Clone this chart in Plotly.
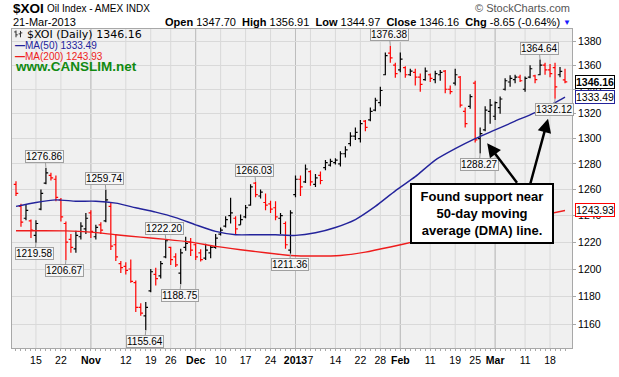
import math
import plotly.graph_objects as go

# ---------------- data ----------------
dates = [
    "2012-10-09", "2012-10-10", "2012-10-11", "2012-10-12", "2012-10-15", "2012-10-16", "2012-10-17",
    "2012-10-18", "2012-10-19", "2012-10-22", "2012-10-23", "2012-10-24", "2012-10-25", "2012-10-26",
    "2012-10-31",
    "2012-11-01", "2012-11-02", "2012-11-05", "2012-11-06", "2012-11-07", "2012-11-08", "2012-11-09",
    "2012-11-12", "2012-11-13", "2012-11-14", "2012-11-15", "2012-11-16", "2012-11-19", "2012-11-20",
    "2012-11-21", "2012-11-23", "2012-11-26", "2012-11-27", "2012-11-28", "2012-11-29", "2012-11-30",
    "2012-12-03", "2012-12-04", "2012-12-05", "2012-12-06", "2012-12-07", "2012-12-10", "2012-12-11",
    "2012-12-12", "2012-12-13", "2012-12-14", "2012-12-17", "2012-12-18", "2012-12-19", "2012-12-20",
    "2012-12-21", "2012-12-24", "2012-12-26", "2012-12-27", "2012-12-28", "2012-12-31",
    "2013-01-02", "2013-01-03", "2013-01-04", "2013-01-07", "2013-01-08", "2013-01-09", "2013-01-10",
    "2013-01-11", "2013-01-14", "2013-01-15", "2013-01-16", "2013-01-17", "2013-01-18", "2013-01-22",
    "2013-01-23", "2013-01-24", "2013-01-25", "2013-01-28", "2013-01-29", "2013-01-30", "2013-01-31",
    "2013-02-01", "2013-02-04", "2013-02-05", "2013-02-06", "2013-02-07", "2013-02-08", "2013-02-11",
    "2013-02-12", "2013-02-13", "2013-02-14", "2013-02-15", "2013-02-19", "2013-02-20", "2013-02-21",
    "2013-02-22", "2013-02-25", "2013-02-26", "2013-02-27", "2013-02-28",
    "2013-03-01", "2013-03-04", "2013-03-05", "2013-03-06", "2013-03-07", "2013-03-08", "2013-03-11",
    "2013-03-12", "2013-03-13", "2013-03-14", "2013-03-15", "2013-03-18", "2013-03-19", "2013-03-20",
    "2013-03-21",
]

opens = [
    1264, 1247, 1238, 1236, 1225, 1245, 1265, 1271, 1268, 1252, 1234, 1222, 1215, 1224, 1230,
    1242, 1224, 1233, 1236, 1247, 1218, 1204, 1202, 1200, 1190, 1172, 1166, 1184, 1196, 1195, 1209,
    1216, 1209, 1197, 1216, 1220,
    1218, 1212, 1208, 1212, 1216, 1226, 1232, 1240, 1238, 1233, 1239, 1248, 1265, 1255, 1250, 1249,
    1246, 1238, 1234, 1214,
    1256, 1268, 1266, 1274, 1264, 1271, 1277, 1279, 1281, 1280, 1288, 1296, 1302, 1300, 1314, 1315,
    1323, 1329, 1352, 1370, 1360,
    1356, 1358, 1352, 1354, 1350, 1348, 1352, 1348, 1352, 1355, 1340, 1345, 1350, 1322, 1326, 1345,
    1300, 1307, 1322,
    1318, 1325, 1340, 1346, 1348, 1350, 1340, 1350, 1351, 1352, 1360, 1356, 1358, 1352, 1347.70,
]
highs = [
    1266.5, 1249, 1248, 1237, 1236.5, 1260, 1276.86, 1273, 1271, 1253.5, 1235.5, 1226, 1228.6, 1235, 1242,
    1244, 1233, 1235, 1259.74, 1249.7, 1226, 1206, 1205, 1207, 1191.6, 1175, 1176, 1200, 1201, 1206,
    1222.2, 1216.5, 1211.6, 1215, 1224, 1223,
    1219, 1214.6, 1218.8, 1217, 1226, 1231, 1239.5, 1253.7, 1239.5, 1240.8, 1248, 1264, 1266.03, 1260,
    1257, 1251.4, 1251, 1242, 1235.5, 1244,
    1271, 1271, 1279.6, 1275, 1272, 1274, 1283, 1284, 1284.5, 1290, 1294, 1305, 1309, 1315, 1315, 1325,
    1333, 1342, 1370.5, 1376.38, 1362,
    1370.5, 1359, 1357, 1357, 1353, 1358, 1353, 1355.4, 1356, 1356, 1343, 1357, 1351, 1325, 1336, 1347,
    1309, 1326, 1332,
    1330, 1334, 1349, 1351.6, 1352, 1352, 1350.6, 1360, 1352, 1364.64, 1362, 1361, 1362, 1358.5, 1356.91,
]
lows = [
    1255, 1231.5, 1236.5, 1223, 1219.58, 1244, 1264, 1267, 1251, 1235.5, 1206.67, 1212, 1212, 1222, 1226,
    1223, 1222, 1226, 1235, 1214, 1206, 1197, 1196, 1190, 1168.7, 1166, 1155.64, 1183, 1188, 1193, 1208,
    1203, 1201.4, 1188.75, 1213.6, 1209.6,
    1206.7, 1205.5, 1206.7, 1208, 1215, 1225, 1231, 1234, 1226, 1233, 1238, 1247.5, 1254, 1253, 1244,
    1242, 1236.5, 1226, 1215, 1211.36,
    1254, 1255, 1265, 1263, 1262, 1264, 1275, 1278, 1279.5, 1278, 1285, 1294, 1299, 1297, 1306, 1314,
    1322, 1326, 1351.5, 1362, 1349.6,
    1354, 1349.6, 1351, 1343, 1338, 1347, 1346, 1345, 1347, 1336.7, 1336, 1343, 1325, 1309, 1324, 1297,
    1288.27, 1306, 1312,
    1315, 1320, 1339, 1342, 1345, 1346, 1338, 1349, 1345, 1351.6, 1352, 1350, 1332.12, 1350, 1344.97,
]
closes = [
    1257, 1235, 1244, 1229, 1234, 1257, 1273, 1269, 1254, 1239, 1220, 1216, 1225, 1232, 1238,
    1228, 1231, 1229, 1252, 1217, 1209, 1201, 1199, 1191, 1172, 1168, 1172, 1198, 1193, 1204, 1221,
    1207, 1203, 1212, 1219, 1214,
    1209, 1207, 1214, 1216, 1223, 1229, 1237, 1242, 1230, 1237, 1246, 1262, 1256, 1258, 1248, 1245,
    1239, 1240, 1218, 1242,
    1268, 1262, 1276, 1266, 1269, 1267, 1281, 1282, 1283, 1288, 1291, 1302, 1305, 1312, 1309, 1322,
    1331, 1339, 1368, 1366, 1353,
    1365, 1352, 1355, 1350, 1344, 1355, 1349, 1353, 1354, 1340, 1338, 1352, 1327, 1312, 1334, 1299,
    1304, 1323, 1327,
    1329, 1332, 1347, 1349, 1350, 1347, 1349, 1357, 1348, 1360, 1356, 1353, 1342, 1354.81, 1346.16,
]

ma50_dates = [
    "2012-10-09", "2012-10-15", "2012-10-19", "2012-10-25", "2012-11-02", "2012-11-08", "2012-11-14",
    "2012-11-20", "2012-11-27", "2012-12-03", "2012-12-07", "2012-12-13", "2012-12-19", "2012-12-26",
    "2013-01-02", "2013-01-08", "2013-01-14", "2013-01-18", "2013-01-25", "2013-01-31", "2013-02-06",
    "2013-02-12", "2013-02-19", "2013-02-25", "2013-03-01", "2013-03-07", "2013-03-13", "2013-03-19",
    "2013-03-21",
]
ma50_values = [
    1247, 1250, 1252, 1251, 1251, 1249.5, 1246, 1242.7, 1238.5, 1233, 1228, 1225.5, 1225.5, 1225.5,
    1225, 1227, 1231, 1237, 1247, 1259, 1270, 1283, 1292, 1300, 1307, 1314, 1321, 1329, 1333.49,
]
ma200_dates = [
    "2012-10-09", "2012-10-16", "2012-10-23", "2012-11-01", "2012-11-08", "2012-11-15", "2012-11-23",
    "2012-11-30", "2012-12-07", "2012-12-14", "2012-12-21", "2012-12-31", "2013-01-08", "2013-01-15",
    "2013-01-23", "2013-01-30", "2013-02-06", "2013-02-13", "2013-02-21", "2013-02-28", "2013-03-07",
    "2013-03-14", "2013-03-21",
]
ma200_values = [
    1228.5, 1228.5, 1228.4, 1227.5, 1225.5, 1223.7, 1222, 1220, 1216.8, 1214.3, 1212, 1210, 1209.6,
    1210, 1212.5, 1216.3, 1220.5, 1224.6, 1228.5, 1232.4, 1236, 1240, 1243.93,
]

tick_dates = [
    "2012-10-15", "2012-10-22", "2012-11-01", "2012-11-12", "2012-11-19", "2012-11-26", "2012-12-03",
    "2012-12-10", "2012-12-17", "2012-12-24", "2013-01-02", "2013-01-07", "2013-01-14", "2013-01-22",
    "2013-01-28", "2013-02-01", "2013-02-11", "2013-02-19", "2013-02-25", "2013-03-01", "2013-03-11",
    "2013-03-18",
]
tick_text = [
    "15", "22", "<b>Nov</b>", "12", "19", "26", "<b>Dec</b>", "10", "17", "24", "<b>2013</b>", "7",
    "14", "22", "28", "<b>Feb</b>", "11", "19", "25", "<b>Mar</b>", "11", "18",
]
month_dates = ["2012-11-01", "2012-12-03", "2013-01-02", "2013-02-01", "2013-03-01"]

price_ticks = [1160, 1180, 1200, 1220, 1240, 1260, 1280, 1300, 1320, 1340, 1360, 1380]

label_dates = ["2012-10-17", "2012-10-15", "2012-10-23", "2012-11-06", "2012-11-23", "2012-11-16",
               "2012-11-28", "2012-12-19", "2012-12-31", "2013-01-30", "2013-02-26", "2013-03-14",
               "2013-03-19"]
label_values = [1276.86, 1219.58, 1206.67, 1259.74, 1222.20, 1155.64, 1188.75, 1266.03, 1211.36,
                1376.38, 1288.27, 1364.64, 1332.12]
label_above = [True, False, False, True, True, False, False, True, False, True, False, True, False]

last_open, last_high, last_low, last_close = 1347.70, 1356.91, 1344.97, 1346.16
chg, chg_pct = -8.65, -0.64
ma50_last, ma200_last = 1333.49, 1243.93

# ---------------- figure ----------------
BLACK = "#000000"
RED = "#ff0000"
MA50_C = "#23239b"
MA200_C = "#ee1c1c"

n = len(dates)
up = [closes[i] >= (closes[i - 1] if i > 0 else opens[i]) for i in range(n)]


def subset(arr, flag):
    return [a for a, u in zip(arr, up) if u == flag]


fig = go.Figure()
for flag, col in ((True, BLACK), (False, RED)):
    fig.add_trace(go.Ohlc(
        x=subset(dates, flag), open=subset(opens, flag), high=subset(highs, flag),
        low=subset(lows, flag), close=subset(closes, flag),
        increasing=dict(line=dict(color=col, width=1.2)),
        decreasing=dict(line=dict(color=col, width=1.2)),
        tickwidth=0.45, hoverinfo="skip", showlegend=False,
    ))

fig.add_trace(go.Scatter(x=ma200_dates, y=ma200_values, mode="lines",
                         line=dict(color=MA200_C, width=1.4, shape="spline", smoothing=0.6),
                         hoverinfo="skip", showlegend=False))
fig.add_trace(go.Scatter(x=ma50_dates, y=ma50_values, mode="lines",
                         line=dict(color=MA50_C, width=1.4, shape="spline", smoothing=0.6),
                         hoverinfo="skip", showlegend=False))

L, R, T, B = 11, 47, 29, 21
W, H = 619, 377
PW, PH = W - L - R, H - T - B


def px(xp):
    return (xp - L) / PW


def py(yp):
    return (H - B - yp) / PH


FONT = "Arial, Liberation Sans, sans-serif"
ann = []

# header
ann.append(dict(x=px(10), y=py(7.5), xref="paper", yref="paper", xanchor="left", yanchor="middle",
                text="<b>$XOI</b>", showarrow=False, font=dict(family=FONT, size=13.5, color="black")))
ann.append(dict(x=px(44), y=py(8), xref="paper", yref="paper", xanchor="left", yanchor="middle",
                text="Oil Index - AMEX INDX", showarrow=False, font=dict(family=FONT, size=10, color="black")))
ann.append(dict(x=px(10), y=py(21.5), xref="paper", yref="paper", xanchor="left", yanchor="middle",
                text="21-Mar-2013", showarrow=False, font=dict(family=FONT, size=11, color="black")))
hdr = ("<b>Open</b> %.2f  <b>High</b> %.2f  <b>Low</b> %.2f  <b>Close</b> %.2f  <b>Chg</b> %.2f (%.2f%%)"
       % (last_open, last_high, last_low, last_close, chg, chg_pct))
ann.append(dict(x=px(562), y=py(21.5), xref="paper", yref="paper", xanchor="right", yanchor="middle",
                text=hdr, showarrow=False, font=dict(family=FONT, size=11, color="black")))
ann.append(dict(x=px(567), y=py(22), xref="paper", yref="paper", xanchor="center", yanchor="middle",
                text="▼", showarrow=False, font=dict(family=FONT, size=8, color="#1a1aff")))
ann.append(dict(x=px(572), y=py(7.5), xref="paper", yref="paper", xanchor="right", yanchor="middle",
                text="© StockCharts.com", showarrow=False, font=dict(family=FONT, size=11, color="#555555")))

# in-plot legend
ann.append(dict(x=px(24), y=py(34.2), xref="paper", yref="paper", xanchor="left", yanchor="middle",
                text="$XOI (Daily) %.2f" % last_close, showarrow=False,
                font=dict(family="DejaVu Sans, Verdana", size=11, color="black")))
ann.append(dict(x=px(12), y=py(45.8), xref="paper", yref="paper", xanchor="left", yanchor="middle",
                text="<b>—</b>MA(50) %.2f" % ma50_last, showarrow=False,
                font=dict(family=FONT, size=10, color=MA50_C)))
ann.append(dict(x=px(12), y=py(56.7), xref="paper", yref="paper", xanchor="left", yanchor="middle",
                text="<b>—</b>MA(200) %.2f" % ma200_last, showarrow=False,
                font=dict(family=FONT, size=10, color=MA200_C)))
ann.append(dict(x=px(12), y=py(67.5), xref="paper", yref="paper", xanchor="left", yanchor="middle",
                text="<b>www.CANSLIM.net</b>", showarrow=False,
                font=dict(family=FONT, size=13.5, color="#118a11")))

# high / low callouts
for d, v, above in zip(label_dates, label_values, label_above):
    ann.append(dict(x=d, y=math.log10(v), xref="x", yref="y", text="%.2f" % v,
                    showarrow=True, arrowhead=0, arrowwidth=1, arrowcolor="#9a9a9a",
                    ax=-1, ay=-11 if above else 11, bordercolor="#a0a0a0", borderwidth=1,
                    borderpad=0, bgcolor="#f6f6f6",
                    font=dict(family=FONT, size=10, color="black")))

# right-side value tags
for v, bc, bold in ((last_close, "black", True), (ma50_last, MA50_C, False), (ma200_last, "red", False)):
    ann.append(dict(x=px(575), y=math.log10(v), xref="paper", yref="y", xanchor="left", yanchor="middle",
                    text=("<b>%.2f</b>" if bold else "%.2f") % v, showarrow=False,
                    bordercolor=bc, borderwidth=1, borderpad=0, bgcolor="white",
                    font=dict(family=FONT, size=10.5, color="black")))

# commentary box + arrows
ann.append(dict(x=px(482), y=py(218.5), xref="paper", yref="paper", xanchor="center", yanchor="middle",
                text="<b>Found support near<br>50-day moving<br>average (DMA) line.</b>",
                showarrow=False, bordercolor="black", borderwidth=2, borderpad=2, bgcolor="white",
                width=136, height=53, align="center",
                font=dict(family=FONT, size=13, color="black")))
ann.append(dict(x=px(487), y=py(146), xref="paper", yref="paper", text="", showarrow=True,
                arrowhead=2, arrowsize=1.1, arrowwidth=2.5, arrowcolor="black", ax=31, ay=41))
ann.append(dict(x=px(548), y=py(121), xref="paper", yref="paper", text="", showarrow=True,
                arrowhead=2, arrowsize=1.1, arrowwidth=2.5, arrowcolor="black", ax=-18, ay=66))

GRID = "#d9d9d9"
shapes = []
# weekly grid lines (at labelled dates) and darker month lines
for d in tick_dates:
    shapes.append(dict(type="line", xref="x", yref="paper", x0=d, x1=d, y0=0, y1=1,
                       line=dict(color=GRID, width=1), layer="below"))
for d in month_dates:
    shapes.append(dict(type="line", xref="x", yref="paper", x0=d, x1=d, y0=0, y1=1,
                       line=dict(color="#bdbdbd", width=1), layer="below"))
# small OHLC glyph in the in-plot legend
for x0, ytop, ybot, yl, yr in ((15, 30.5, 37.5, 32, 35), (19.5, 31, 37.5, 34, 33)):
    shapes.append(dict(type="line", xref="paper", yref="paper", x0=px(x0), x1=px(x0), y0=py(ytop), y1=py(ybot),
                       line=dict(color="#333333", width=1)))
    shapes.append(dict(type="line", xref="paper", yref="paper", x0=px(x0 - 1.8), x1=px(x0), y0=py(yl), y1=py(yl),
                       line=dict(color="#333333", width=1)))
    shapes.append(dict(type="line", xref="paper", yref="paper", x0=px(x0), x1=px(x0 + 1.8), y0=py(yr), y1=py(yr),
                       line=dict(color="#333333", width=1)))

tick_lookup = dict(zip(tick_dates, tick_text))
all_ticktext = [tick_lookup.get(d, "") for d in dates]

fig.update_layout(
    width=W, height=H, margin=dict(l=L, r=R, t=T, b=B),
    paper_bgcolor="white", plot_bgcolor="#f0f0f0", showlegend=False,
    font=dict(family=FONT, size=10, color="black"),
    annotations=ann, shapes=shapes,
    xaxis=dict(type="category", categoryorder="array", categoryarray=dates,
               range=[-0.8, 111.4], tickmode="array", tickvals=dates, ticktext=all_ticktext,
               tickangle=0, showgrid=False, zeroline=False,
               showline=True, mirror=True, linecolor="#a8a8a8", linewidth=1,
               ticks="outside", ticklen=2, tickcolor="#a8a8a8",
               tickfont=dict(family=FONT, size=10.5, color="black"),
               rangeslider=dict(visible=False), fixedrange=True),
    yaxis=dict(type="log", side="right", range=[math.log10(1143.2), math.log10(1390.5)],
               tickmode="array", tickvals=price_ticks, ticktext=[str(t) for t in price_ticks],
               showgrid=True, gridcolor=GRID, gridwidth=1, zeroline=False,
               showline=True, mirror=True, linecolor="#a8a8a8", linewidth=1,
               ticks="outside", ticklen=3, tickcolor="#a8a8a8",
               tickfont=dict(family=FONT, size=10.5, color="black"), fixedrange=True),
)

fig.write_html("out.html", config={"displayModeBar": False, "staticPlot": True},
               post_script="document.body.style.margin='0';document.body.style.overflow='hidden';")
